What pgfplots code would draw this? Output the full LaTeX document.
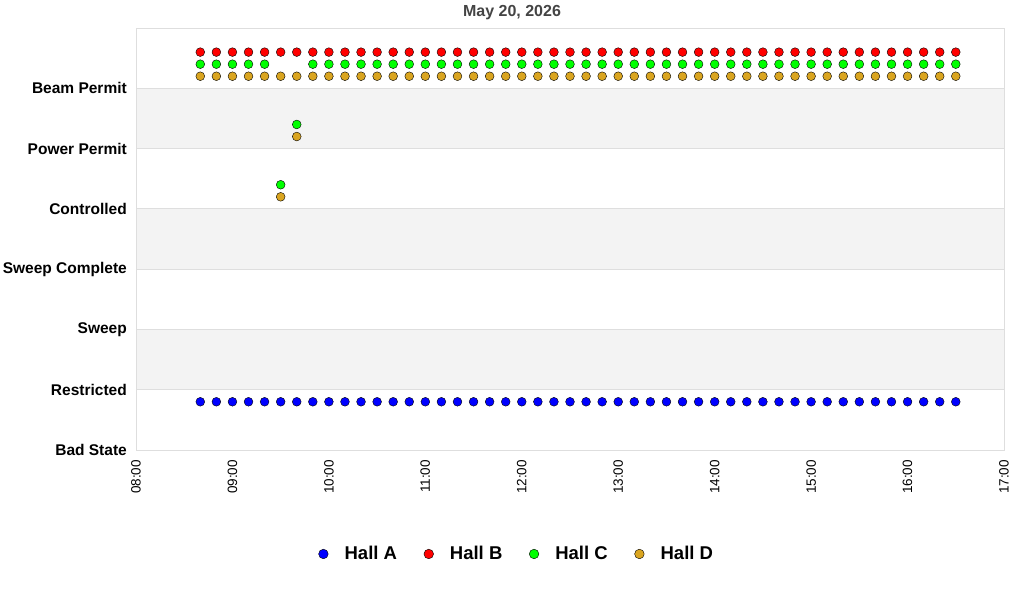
\documentclass[border=0pt]{standalone}
\usepackage{pgfplots}
\usepackage{pgfplotstable}
\pgfplotsset{compat=1.18}
\usepackage{fontspec}
\setmainfont{Liberation Sans}

\definecolor{hallA}{RGB}{0,0,255}
\definecolor{hallB}{RGB}{255,0,0}
\definecolor{hallC}{RGB}{0,255,0}
\definecolor{hallD}{RGB}{218,165,32}
\definecolor{band}{RGB}{243,243,243}
\definecolor{gridc}{RGB}{222,222,222}
\definecolor{titlec}{RGB}{68,68,68}

% minutes since midnight, state value per hall
\pgfplotstableread{
t   A   B   C   D
520 0.8 6.6 6.4 6.2
530 0.8 6.6 6.4 6.2
540 0.8 6.6 6.4 6.2
550 0.8 6.6 6.4 6.2
560 0.8 6.6 6.4 6.2
570 0.8 6.6 4.4 6.2
580 0.8 6.6 5.4 6.2
590 0.8 6.6 6.4 6.2
600 0.8 6.6 6.4 6.2
610 0.8 6.6 6.4 6.2
620 0.8 6.6 6.4 6.2
630 0.8 6.6 6.4 6.2
640 0.8 6.6 6.4 6.2
650 0.8 6.6 6.4 6.2
660 0.8 6.6 6.4 6.2
670 0.8 6.6 6.4 6.2
680 0.8 6.6 6.4 6.2
690 0.8 6.6 6.4 6.2
700 0.8 6.6 6.4 6.2
710 0.8 6.6 6.4 6.2
720 0.8 6.6 6.4 6.2
730 0.8 6.6 6.4 6.2
740 0.8 6.6 6.4 6.2
750 0.8 6.6 6.4 6.2
760 0.8 6.6 6.4 6.2
770 0.8 6.6 6.4 6.2
780 0.8 6.6 6.4 6.2
790 0.8 6.6 6.4 6.2
800 0.8 6.6 6.4 6.2
810 0.8 6.6 6.4 6.2
820 0.8 6.6 6.4 6.2
830 0.8 6.6 6.4 6.2
840 0.8 6.6 6.4 6.2
850 0.8 6.6 6.4 6.2
860 0.8 6.6 6.4 6.2
870 0.8 6.6 6.4 6.2
880 0.8 6.6 6.4 6.2
890 0.8 6.6 6.4 6.2
900 0.8 6.6 6.4 6.2
910 0.8 6.6 6.4 6.2
920 0.8 6.6 6.4 6.2
930 0.8 6.6 6.4 6.2
940 0.8 6.6 6.4 6.2
950 0.8 6.6 6.4 6.2
960 0.8 6.6 6.4 6.2
970 0.8 6.6 6.4 6.2
980 0.8 6.6 6.4 6.2
990 0.8 6.6 6.4 6.2
}\halls

\begin{document}
\begin{tikzpicture}
\begin{axis}[
    set layers,
    at={(136pt,150pt)}, anchor=south west,
    scale only axis,
    width=868pt, height=422pt,
    xmin=480, xmax=1020, ymin=0, ymax=7,
    xtick={480,540,...,1020},
    xticklabels={08:00,09:00,10:00,11:00,12:00,13:00,14:00,15:00,16:00,17:00},
    ytick={0,...,6},
    yticklabels={Bad State,Restricted,Sweep,Sweep Complete,Controlled,Power Permit,Beam Permit},
    major tick length=0pt,
    ymajorgrids,
    grid style={draw=gridc, line width=1pt},
    axis line style={draw=gridc, line width=1pt},
    xticklabel style={rotate=90, anchor=east, inner sep=0pt,
        font=\fontsize{13.5}{16}\selectfont},
    xticklabel shift=10pt,
    yticklabel style={anchor=east, inner sep=0pt,
        font=\fontsize{15.5}{18}\selectfont\bfseries},
    yticklabel shift=9pt,
    only marks,
    every axis plot/.append style={mark=*, mark size=4.4pt,
        mark options={draw=black, line width=0.9pt}},
    legend columns=-1,
    legend style={draw=none, fill=none,
        at={(0.4385,-0.2464)}, anchor=center,
        font=\fontsize{18.5}{21}\selectfont\bfseries,
        /tikz/every even column/.append style={column sep=24.5pt},
        nodes={inner sep=2pt}},
    legend image code/.code={%
        \path (-5pt,0pt) (19pt,0pt);
        \draw[#1, mark size=4.8pt] plot coordinates {(0pt,0pt)};},
]
\begin{pgfonlayer}{axis background}
  \fill[band] (axis cs:480,1) rectangle (axis cs:1020,2);
  \fill[band] (axis cs:480,3) rectangle (axis cs:1020,4);
  \fill[band] (axis cs:480,5) rectangle (axis cs:1020,6);
\end{pgfonlayer}
\addplot[mark options={fill=hallA}] table[x=t, y=A] {\halls};
\addplot[mark options={fill=hallB}] table[x=t, y=B] {\halls};
\addplot[mark options={fill=hallC}] table[x=t, y=C] {\halls};
\addplot[mark options={fill=hallD}] table[x=t, y=D] {\halls};
\addplot[mark options={fill=hallD}, forget plot] coordinates {(570,4.2) (580,5.2)};
\legend{Hall A,Hall B,Hall C,Hall D}
\end{axis}
\node[font=\fontsize{16}{19}\selectfont\bfseries, text=titlec] at (512pt,587pt) {May 20, 2026};
\pgfresetboundingbox
\useasboundingbox (0pt,0pt) rectangle (1024pt,600pt);
\end{tikzpicture}
\end{document}
